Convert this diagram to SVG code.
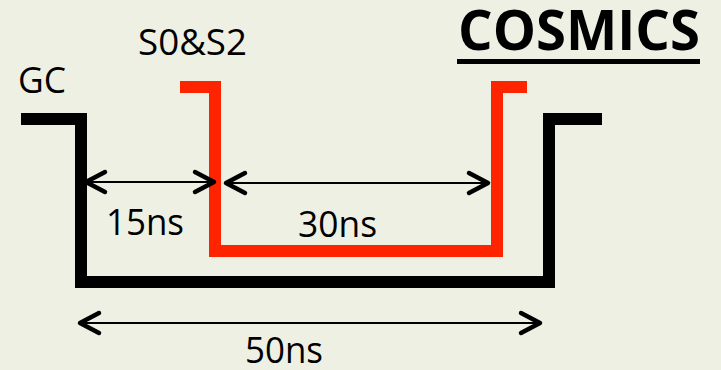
<svg xmlns="http://www.w3.org/2000/svg" width="721" height="370" viewBox="0 0 721 370">
<defs>
<style>
.bg{fill:#EEF0E4}
.sig{fill:none;stroke-width:12;stroke-linejoin:miter;stroke-linecap:butt}
.gc{stroke:#000}
.red{stroke:#FF2400}
.dim{fill:none;stroke:#000;stroke-width:2.2}
.lbl{font-family:"Open Sans","Noto Sans","Liberation Sans",sans-serif;font-size:37px;fill:#000}
.title{font-family:"Open Sans","Noto Sans","Liberation Sans",sans-serif;font-size:55px;font-weight:bold;fill:#000}
</style>
<marker id="ah" viewBox="-24 -14 28 28" markerWidth="28" markerHeight="28" refX="0" refY="0" orient="auto-start-reverse" markerUnits="userSpaceOnUse">
<path d="M-19,-10 L0,0 L-19,10" fill="none" stroke="#000" stroke-width="4.5" stroke-linecap="round" stroke-linejoin="round"/>
</marker>
</defs>
<rect class="bg" x="0" y="0" width="721" height="370"/>
<g id="title">
<text class="title" x="458" y="50" textLength="242" lengthAdjust="spacingAndGlyphs">COSMICS</text>
<rect x="457" y="59" width="243" height="5" fill="#000"/>
</g>
<g id="gc">
<text class="lbl" x="18" y="93" textLength="48" lengthAdjust="spacingAndGlyphs">GC</text>
<path class="sig gc" d="M21,119 H81 V282 H549 V119 H602"/>
</g>
<g id="s0s2">
<text class="lbl" x="138" y="55" textLength="109" lengthAdjust="spacingAndGlyphs">S0&amp;S2</text>
<path class="sig red" d="M180,87 H215 V251 H497 V87 H527"/>
</g>
<g id="connectors">
<line class="dim" x1="86" y1="182" x2="214" y2="182" marker-start="url(#ah)" marker-end="url(#ah)"/>
<line class="dim" x1="226" y1="183" x2="488" y2="183" marker-start="url(#ah)" marker-end="url(#ah)"/>
<line class="dim" x1="80" y1="323" x2="540" y2="323" marker-start="url(#ah)" marker-end="url(#ah)"/>
</g>
<g id="labels">
<text class="lbl" x="106" y="235" textLength="78" lengthAdjust="spacingAndGlyphs">15ns</text>
<text class="lbl" x="298" y="237" textLength="79" lengthAdjust="spacingAndGlyphs">30ns</text>
<text class="lbl" x="245" y="363" textLength="78" lengthAdjust="spacingAndGlyphs">50ns</text>
</g>
</svg>
